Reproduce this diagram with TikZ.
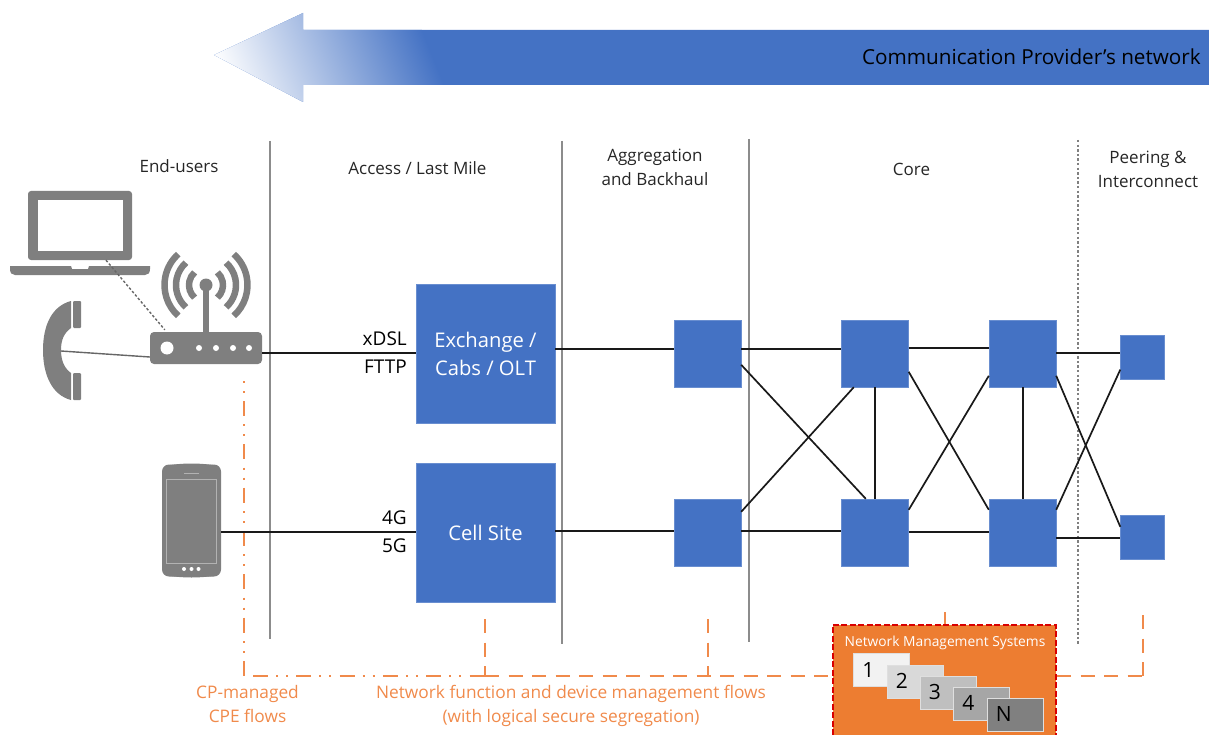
\documentclass[tikz,border=0pt]{standalone}
\usepackage{fontspec}
\setmainfont{Open Sans}
\usetikzlibrary{calc}
\definecolor{cpblue}{HTML}{4472C4}
\definecolor{cporange}{HTML}{ED7D31}
\definecolor{cpgray}{HTML}{7F7F7F}
\definecolor{flow}{HTML}{F08A4B}
\definecolor{txt}{HTML}{262626}
\tikzset{
 x=1pt,y=-1pt,
 bluebox/.style={draw=cpblue!80!white,line width=.4pt,fill=cpblue,minimum width=#1,minimum height=#1,inner sep=0pt,text=white,align=center},
 link/.style={black!90,line width=1.7pt},
 divider/.style={draw=black!45,line width=1.6pt},
 dotdiv/.style={draw=black!50,line width=1.4pt,dash pattern=on 2.4pt off 2.2pt},
 caption/.style={font=\fontsize{17}{24}\selectfont,align=center,text=txt,inner sep=0pt},
 radio/.style={text=black,font=\fontsize{19}{28}\selectfont,inner sep=0pt,anchor=east,align=right},
 boxfont/.style={font=\fontsize{20.2}{28}\selectfont,text depth=0pt},
 flowdash/.style={draw=flow,line width=1.6pt,dash pattern=on 14pt off 9.5pt},
 flowdots/.style={draw=flow,line width=1.6pt,dash pattern=on 2pt off 8pt on 2pt off 8pt on 15pt off 8.3pt},
 flowdots2/.style={draw=flow,line width=1.6pt,dash pattern=on 15pt off 8pt on 2pt off 8pt on 2pt off 8.3pt},
 flowtext/.style={text=flow,font=\fontsize{17.3}{24}\selectfont,align=center,inner sep=0pt},
 gicon/.style={fill=cpgray,draw=none},
 card/.style={draw=white!75!gray,line width=.5pt,minimum height=33pt,text width=38pt,inner xsep=9pt,inner ysep=0pt,anchor=north west,align=left,font=\fontsize{21}{21}\selectfont,text=black},
 iconwire/.style={draw=black!60,line width=1.4pt},
}
\begin{document}
\begin{tikzpicture}
\useasboundingbox (0,0) rectangle (1209,735);
% top arrow
\begin{scope}
 \clip (214,55) -- (303,13) -- (303,30) -- (1209,30) -- (1209,85) -- (303,85) -- (303,102) -- cycle;
 \fill[cpblue] (200,0) rectangle (1209,110);
 \begin{scope}[transform canvas={rotate around={22:(327,57)}}]
  \shade[left color=white,right color=cpblue] (222,-100) rectangle (425,220);
 \end{scope}
\end{scope}
\node[inner sep=0pt,anchor=east,text=black,font=\fontsize{20.7}{24}\selectfont] (cpnet) at (1201,57) {Communication Provider’s network};
% flows (behind)
\coordinate (fa) at (244,381);
\coordinate (fb) at (244,676);
\coordinate (fc) at (253,676);
\coordinate (fd) at (485,676);
\coordinate (fe) at (485,619);
\coordinate (ff) at (708,676);
\coordinate (fg) at (708,619);
\coordinate (fh) at (945,612);
\coordinate (fi) at (1143,676);
\coordinate (fj) at (1143,615);
\draw[flowdots] (fa) -- (fb);
\draw[flowdots2] (fc) -- (fd);
\draw[flowdash] (fe) -- (fd);
\draw[flowdash] (fg) -- (ff);
\draw[flowdash] (fd) -- ($(fd)+(348,0)$);
\draw[flowdash] ($(fi)+(-86,0)$) -- (fi);
\draw[flowdash] (fj) -- (fi);
\draw[flowdash] (fh) -- ($(fh)+(0,13)$);
% dividers
\coordinate (d1a) at (270,141); \coordinate (d1b) at (270,639);
\coordinate (d2a) at (562,141); \coordinate (d2b) at (562,644);
\coordinate (d3a) at (749,139); \coordinate (d3b) at (749,642);
\coordinate (d4a) at (1078,140); \coordinate (d4b) at (1078,644);
\draw[divider] (d1a) -- (d1b);
\draw[divider] (d2a) -- (d2b);
\draw[divider] (d3a) -- (d3b);
\draw[dotdiv] (d4a) -- (d4b);
% captions
\node[caption] (cap1) at (179,166) {End-users};
\node[caption] (cap2) at (417.5,168) {Access / Last Mile};
\node[caption] (cap3) at (655,167) {Aggregation\\and Backhaul};
\node[caption] (cap4) at (911.5,169) {Core};
\node[caption] (cap5) at (1148,169) {Peering \&\\Interconnect};
% boxes
\node[bluebox=139pt,boxfont] (ex) at (485.5,353.5) {Exchange /\\Cabs / OLT};
\node[bluebox=139pt,boxfont] (cell) at (485.5,532.5) {Cell Site};
\node[bluebox=67pt] (a1) at (707.5,353.5) {};
\node[bluebox=67pt] (a2) at (707.5,532.5) {};
\node[bluebox=67pt] (c1) at (875,353.5) {};
\node[bluebox=67pt] (c2) at (875,532.5) {};
\node[bluebox=67pt] (c3) at (1022.5,353.5) {};
\node[bluebox=67pt] (c4) at (1022.5,532.5) {};
\node[bluebox=44pt] (p1) at (1142.5,356.8) {};
\node[bluebox=44pt] (p2) at (1142.5,537.5) {};
% icons: laptop
\node[gicon,rounded corners=3pt,minimum width=104pt,minimum height=69pt,inner sep=0pt] (laptop) at (80,225.5) {};
\fill[white] (37.5,200) rectangle (123,251);
\path[gicon] (10,266) -- (71,266) -- (72,269) -- (88,269) -- (89,266) -- (150,266) -- (150,269) .. controls (150,273) and (148,275) .. (145,275) -- (15,275) .. controls (12,275) and (10,273) .. (10,269) -- cycle;
% router
\node[gicon,rounded corners=4pt,minimum width=112pt,minimum height=32pt,inner sep=0pt] (router) at (206,348) {};
\fill[white] (167,348) circle (6.5);
\fill[white] (199,348) circle (3) (216,348) circle (3) (233,348) circle (3) (249,348) circle (3);
\fill[cpgray] (202.7,285) rectangle (209.3,333);
\fill[cpgray] (206,285) circle (6.5);
\foreach \r in {17,30,41.5}{
 \draw[cpgray,line width=6.5pt] ($(206,285)+(132:\r)$) arc[start angle=132,end angle=228,radius=\r];
 \draw[cpgray,line width=6.5pt] ($(206,285)+(48:\r)$) arc[start angle=48,end angle=-48,radius=\r];
}
% handset
\path[gicon] (71,301) .. controls (52,306) and (43,325) .. (43,350) .. controls (43,375) and (52,395) .. (71,400) -- (71,373) .. controls (64,368) and (61,360) .. (61,350) .. controls (61,340) and (64,333) .. (71,328) -- cycle;
\fill[cpgray,rounded corners=1pt] (73,301) rectangle (81,328);
\fill[cpgray,rounded corners=1pt] (73,373) rectangle (81,400);
\coordinate (handset) at (61,351);
% mobile
\node[gicon,rounded corners=7pt,minimum width=59pt,minimum height=112pt,inner sep=0pt] (mobile) at (191.5,520.5) {};
\fill[cpgray] (170,465) .. controls (185,463) and (198,463) .. (213,465) -- cycle;
\fill[cpgray] (170,576) .. controls (185,578) and (198,578) .. (213,576) -- cycle;
\draw[black!30,line width=.9pt,fill=cpgray] (166,479.5) rectangle (216.5,563);
\draw[black!30,line width=.9pt] (184,473) -- (199,473);
\fill[white] (184,569) circle (2) (191.5,569) circle (2) (198.5,569) circle (2);
% links
\draw[iconwire] (handset) -- ($(router.west)+(0,9)$);
\draw[iconwire,dash pattern=on 2.5pt off 2pt] ($(laptop.south)+(26,0)$) -- ($(router.north west)+(15,-2)$);
\draw[link] (router.east) ++(0,5) -- ($(ex.west)+(0,-.5)$);
\draw[link] ($(ex.east)+(0,-4.5)$) -- ($(a1.west)+(0,-4.5)$);
\draw[link] ($(a1.east)+(0,-4.5)$) -- ($(c1.west)+(0,-4.5)$);
\draw[link] ($(c1.east)+(0,-5.5)$) -- ($(c3.west)+(0,-5.5)$);
\draw[link] ($(c3.east)+(0,-.5)$) -- ($(p1.west)+(0,-3.8)$);
\draw[link] (mobile.east) ++(0,11.5) -- ($(cell.west)+(0,-.5)$);
\draw[link] ($(cell.east)+(0,-1.5)$) -- ($(a2.west)+(0,-1.5)$);
\draw[link] ($(a2.east)+(0,-1.5)$) -- ($(c2.west)+(0,-1.5)$);
\draw[link] ($(c2.east)+(0,-.5)$) -- ($(c4.west)+(0,-.5)$);
\draw[link] ($(c4.east)+(0,5.5)$) -- ($(p2.west)+(0,.5)$);
\draw[link] ($(a1.north east)+(0,45)$) -- ($(c2.north west)+(24.5,0)$);
\draw[link] ($(a2.north east)+(0,13)$) -- ($(c1.south west)+(12.5,0)$);
\draw[link] (c1.south) -- (c2.north);
\draw[link] ($(c3.south)+(.5,0)$) -- ($(c4.north)+(.5,0)$);
\draw[link] ($(c1.north east)+(0,52)$) -- ($(c4.north west)+(0,11)$);
\draw[link] ($(c2.north east)+(0,11)$) -- ($(c3.north west)+(0,56)$);
\draw[link] ($(c3.north east)+(0,56)$) -- ($(p2.north west)+(0,11.5)$);
\draw[link] ($(c4.north east)+(0,11)$) -- ($(p1.north west)+(0,35)$);
% radio labels
\node[radio] (xdsl) at (407,353) {xDSL\\FTTP};
\node[radio] (g45) at (407,532) {4G\\5G};
% flow text
\node[flowtext] (ft1) at (247.5,704) {CP-managed\\CPE flows};
\node[flowtext] (ft2) at (571,706) {Network function and device management flows\\(with logical secure segregation)};
% NMS
\node[fill=cporange,minimum width=223pt,minimum height=110pt,inner sep=0pt] (nms) at (944.5,680) {};
\draw[red!85!black,line width=1.5pt,dash pattern=on 6pt off 2.5pt] (nms.south west) -- (nms.north west) -- (nms.north east) -- (nms.south east);
\node[inner sep=0pt,text=white,font=\fontsize{13.8}{16}\selectfont] (nmst) at (945,643) {Network Management Systems};
\node[card,fill=black!5] (k1) at (853,653) {1};
\node[card,fill=black!15] (k2) at (886.5,664.5) {2};
\node[card,fill=black!25] (k3) at (919.5,675.5) {3};
\node[card,fill=black!35] (k4) at (953,686.5) {4};
\node[card,fill=black!50] (k5) at (986.5,697.5) {N};
\end{tikzpicture}
\end{document}
